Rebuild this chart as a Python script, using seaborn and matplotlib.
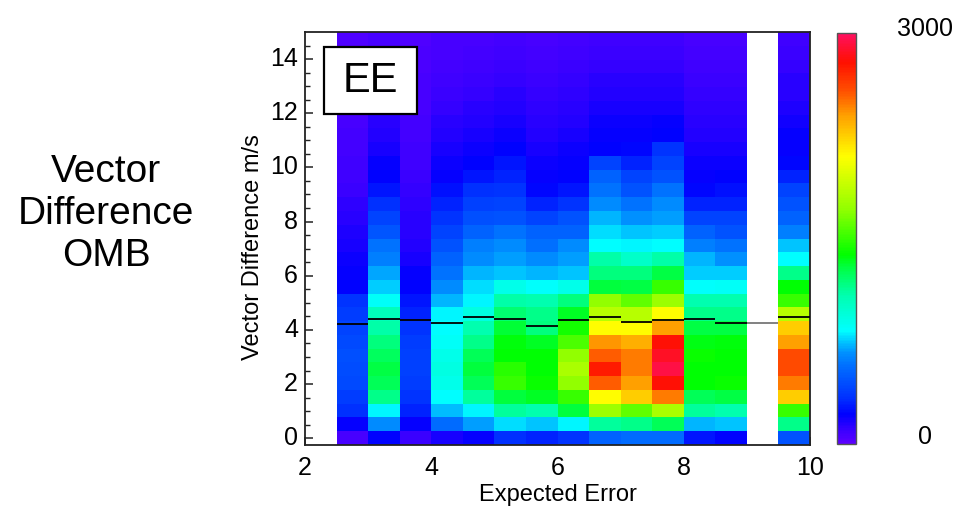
import numpy as np
import pandas as pd
import matplotlib
matplotlib.use("Agg")
import matplotlib.pyplot as plt
from matplotlib.colors import LinearSegmentedColormap
from matplotlib.patches import Rectangle
import seaborn as sns

# ---------------- data ----------------
# Expected-error bins (left edges, width 0.5); 2.0 and 9.0 bins are empty
ee_bins = [2.0, 2.5, 3.0, 3.5, 4.0, 4.5, 5.0, 5.5, 6.0, 6.5, 7.0, 7.5, 8.0, 8.5, 9.0, 9.5]
n_rows = 30  # vector-difference bins from -0.25 to 15.0

# counts per column, bottom -> top
col_2_0 = [np.nan] * 30
col_2_5 = [60, 200, 330, 380, 430, 440, 450, 430, 400, 380, 340, 220, 200, 190, 170, 160, 140, 120, 100, 90, 85, 80, 75, 70, 65, 60, 55, 50, 50, 45]
col_3_0 = [220, 650, 820, 1150, 1250, 1280, 1240, 1180, 1100, 1050, 850, 760, 700, 620, 580, 470, 400, 330, 260, 220, 200, 170, 150, 130, 110, 100, 90, 80, 70, 60]
col_3_5 = [100, 210, 300, 340, 380, 390, 390, 380, 350, 300, 260, 220, 200, 170, 150, 140, 130, 120, 110, 100, 90, 85, 80, 75, 70, 65, 60, 55, 50, 45]
col_4_0 = [170, 560, 730, 830, 900, 920, 900, 850, 830, 810, 720, 650, 580, 520, 460, 400, 340, 300, 250, 210, 190, 170, 150, 130, 115, 100, 90, 80, 70, 60]
col_4_5 = [200, 690, 820, 1120, 1250, 1300, 1250, 1150, 1080, 920, 820, 780, 720, 650, 610, 520, 450, 390, 330, 260, 220, 190, 170, 150, 130, 115, 100, 90, 80, 70]
col_5_0 = [330, 780, 1120, 1300, 1500, 1470, 1380, 1360, 1310, 1200, 1100, 900, 740, 690, 650, 580, 460, 400, 340, 300, 260, 220, 190, 170, 150, 130, 110, 100, 90, 80]
col_5_5 = [300, 740, 1080, 1330, 1400, 1380, 1380, 1330, 1180, 1150, 1080, 840, 720, 650, 570, 520, 400, 300, 230, 210, 190, 170, 150, 130, 120, 110, 100, 90, 80, 70]
col_6_0 = [340, 820, 1300, 1500, 1720, 1800, 1720, 1550, 1420, 1330, 1180, 900, 740, 690, 650, 520, 460, 340, 260, 220, 210, 190, 170, 150, 130, 120, 110, 100, 90, 80]
col_6_5 = [520, 1120, 1750, 2100, 2550, 2750, 2550, 2420, 2100, 1850, 1720, 1300, 1180, 1100, 830, 780, 720, 650, 580, 520, 400, 220, 210, 190, 170, 150, 130, 110, 100, 90]
col_7_0 = [560, 1150, 1600, 2250, 2400, 2480, 2480, 2350, 2100, 1850, 1600, 1280, 1180, 1000, 810, 740, 660, 580, 460, 400, 300, 230, 210, 190, 170, 150, 130, 110, 100, 90]
col_7_5 = [560, 1250, 1800, 2480, 2800, 2930, 2870, 2800, 2400, 2100, 1750, 1500, 1280, 1100, 830, 760, 690, 650, 580, 460, 400, 340, 220, 210, 170, 150, 130, 110, 100, 90]
col_8_0 = [260, 720, 1120, 1250, 1380, 1380, 1400, 1350, 1280, 1150, 1080, 840, 760, 720, 620, 520, 400, 300, 230, 210, 190, 170, 150, 130, 120, 110, 100, 90, 80, 70]
col_8_5 = [220, 740, 1080, 1280, 1400, 1380, 1380, 1360, 1280, 1150, 1080, 850, 760, 660, 580, 460, 400, 300, 250, 220, 190, 170, 150, 130, 120, 110, 100, 90, 80, 70]
col_9_0 = [np.nan] * 30
col_9_5 = [460, 1150, 1500, 2250, 2480, 2600, 2600, 2400, 2250, 1850, 1500, 1380, 1150, 830, 740, 620, 520, 460, 400, 300, 230, 210, 200, 180, 160, 140, 130, 110, 100, 90]

# median vector difference per bin (m/s)
medians = [np.nan, 4.22, 4.39, 4.36, 4.27, 4.46, 4.41, 4.16, 4.36, 4.49, 4.29, 4.38, 4.40, 4.25, 4.25, 4.49]

x_ticks = [2, 4, 6, 8, 10]
y_ticks = [0, 2, 4, 6, 8, 10, 12, 14]
y_lo, y_hi = -0.25, 15.0

# ---------------- style ----------------
sns.set_theme(style="white")
plt.rcParams["font.family"] = ["Liberation Sans", "DejaVu Sans"]
plt.rcParams["text.color"] = "black"
plt.rcParams["axes.labelcolor"] = "black"
plt.rcParams["xtick.color"] = "black"
plt.rcParams["ytick.color"] = "black"

cmap = LinearSegmentedColormap.from_list("idl_rainbow", [
    (0.00, "#5c00ff"), (0.03, "#3c00ff"), (0.07, "#0000ff"), (0.11, "#0030ff"),
    (0.15, "#0050ff"), (0.19, "#0070ff"), (0.22, "#0090ff"), (0.245, "#00c0ff"),
    (0.275, "#00ffff"), (0.36, "#00ffb0"), (0.43, "#00ff40"), (0.46, "#00ff00"),
    (0.57, "#90ff00"), (0.70, "#ffff00"), (0.80, "#ffa000"), (0.86, "#ff5000"),
    (0.93, "#ff1000"), (1.00, "#ff1060")])

cols = [col_2_0, col_2_5, col_3_0, col_3_5, col_4_0, col_4_5, col_5_0, col_5_5,
        col_6_0, col_6_5, col_7_0, col_7_5, col_8_0, col_8_5, col_9_0, col_9_5]
df = pd.DataFrame(np.array(cols, dtype=float).T, columns=ee_bins)

fig = plt.figure(figsize=(9.61, 5.12), dpi=100)
ax = fig.add_axes([305 / 961, 1 - 445 / 512, 505 / 961, 413 / 512])
cax = fig.add_axes([837 / 961, 1 - 444 / 512, 19 / 961, 411 / 512])

sns.heatmap(df, ax=ax, cbar_ax=cax, cmap=cmap, vmin=0, vmax=3000)
ax.set_facecolor("white")
ax.set_xlim(0, len(ee_bins))
ax.set_ylim(0, n_rows)

row_h = (y_hi - y_lo) / n_rows
def ypos(v):
    return (np.asarray(v, dtype=float) - y_lo) / row_h
def xpos(v):
    return (np.asarray(v, dtype=float) - ee_bins[0]) / 0.5

# median lines
for j, m in enumerate(medians):
    if np.isnan(m):
        continue
    empty = np.all(np.isnan(cols[j]))
    ax.hlines(ypos(m), j, j + 1, color="#777777" if empty else "black", lw=1.3, zorder=3)

# axes / ticks
ax.set_xticks(xpos(x_ticks))
ax.set_xticklabels([str(v) for v in x_ticks], rotation=0)
ax.set_yticks(ypos(y_ticks))
ax.set_yticklabels([str(v) for v in y_ticks], rotation=0)
ax.set_yticks(ypos(np.arange(0, 15, 0.5)), minor=True)
ax.tick_params(axis="both", which="both", direction="in", left=True, bottom=True,
               right=False, top=False, colors="#222222", labelcolor="black")
ax.tick_params(axis="both", which="major", length=6, width=1.1, labelsize=18)
ax.tick_params(axis="y", which="minor", length=3.5, width=1.0)
ax.tick_params(axis="x", which="major", pad=8)
ax.tick_params(axis="y", which="major", pad=5)
for s in ax.spines.values():
    s.set_visible(True)
    s.set_color("#222222")
    s.set_linewidth(1.3)

ax.set_xlabel("Expected Error", fontsize=17, color="black")
ax.xaxis.set_label_coords(0.5, -0.095)
ax.set_ylabel("Vector Difference m/s", fontsize=17, color="black")
ax.yaxis.set_label_coords(-0.082, 0.48)

# EE box
ax.add_patch(Rectangle((0.038, 0.801), 0.184, 0.163, transform=ax.transAxes,
                       facecolor="white", edgecolor="black", lw=1.6, zorder=5))
ax.text(0.13, 0.882, "EE", transform=ax.transAxes, ha="center", va="center",
        fontsize=30, color="black", zorder=6)

# colorbar
cbar = ax.collections[0].colorbar
cbar.set_ticks([])
cbar.outline.set_visible(True)
cbar.outline.set_edgecolor("#555555")
cbar.outline.set_linewidth(1.0)
fig.text(925 / 961, 1 - 29 / 512, "3000", ha="center", va="center", fontsize=18, color="black")
fig.text(925 / 961, 1 - 437 / 512, "0", ha="center", va="center", fontsize=18, color="black")

# left title
fig.text(106 / 961, 1 - 214 / 512, "Vector\nDifference\nOMB", ha="center", va="center",
         fontsize=28, linespacing=1.2, color="black")

fig.savefig("out.png", dpi=100)
